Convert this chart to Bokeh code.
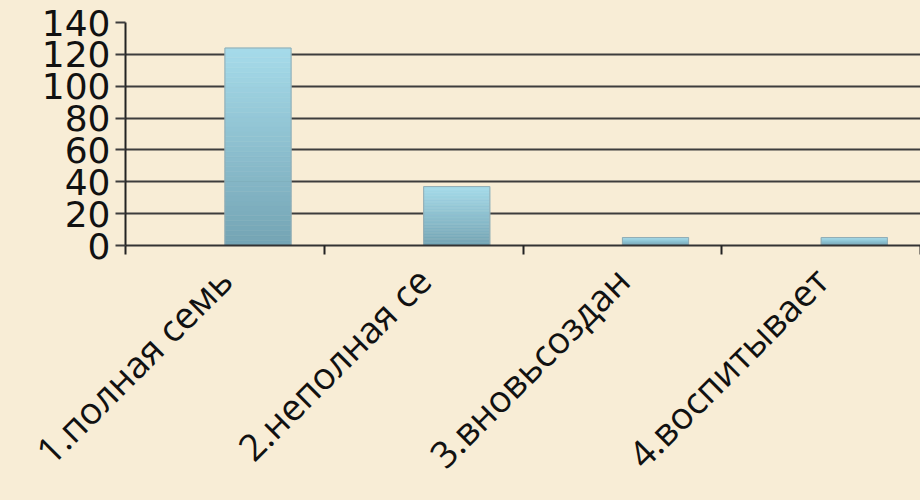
import math
from bokeh.plotting import figure
from bokeh.models import FixedTicker, Range1d, ColumnDataSource, GlobalInlineStyleSheet
from bokeh.transform import dodge
from bokeh.embed import file_html
from bokeh.resources import INLINE

categories = ["1.полная семь", "2.неполная се", "3.вновьсоздан", "4.воспитывает"]
values = [124, 37, 5, 5]
y_ticks = [0, 20, 40, 60, 80, 100, 120, 140]

BG = "#F8EDD6"
TOP = (166, 219, 234)
BOTTOM = (116, 164, 180)

n = len(categories)
x_centers = [i + 0.5 for i in range(n)]
x_bounds = list(range(n + 1))

p = figure(width=920, height=500, output_backend="svg", toolbar_location=None,
           x_range=Range1d(0, n), y_range=Range1d(0, 140),
           min_border_left=125, min_border_top=22, min_border_right=0,
           min_border_bottom=255)
p.background_fill_color = BG
p.border_fill_color = BG
p.outline_line_color = None
p.stylesheets = [GlobalInlineStyleSheet(css="body{background:%s;}" % BG)]

# gradient bar segments derived from values
N = 40
seg_x, seg_b, seg_t, seg_c = [], [], [], []
for xc, v in zip(x_centers, values):
    for k in range(N):
        f = (k + 0.5) / N
        c = tuple(int(round(BOTTOM[i] + (TOP[i] - BOTTOM[i]) * f)) for i in range(3))
        seg_x.append(xc)
        seg_b.append(v * k / N)
        seg_t.append(v * (k + 1) / N)
        seg_c.append("#%02x%02x%02x" % c)
seg_src = ColumnDataSource(dict(x=seg_x, b=seg_b, t=seg_t, c=seg_c))
p.vbar(x=dodge("x", 0.1667), width=0.333, bottom="b", top="t", source=seg_src,
       fill_color="c", line_color="c", line_width=0.6)

bar_src = ColumnDataSource(dict(x=x_centers, v=values))
p.vbar(x=dodge("x", 0.1667), width=0.333, bottom=0, top="v", source=bar_src,
       fill_alpha=0, line_color="#93ADB4", line_width=1)

# grid
p.xgrid.visible = False
p.ygrid.ticker = FixedTicker(ticks=y_ticks)
p.ygrid.grid_line_color = "#3d3d3d"
p.ygrid.grid_line_width = 2

# y axis
ya = p.yaxis[0]
ya.ticker = FixedTicker(ticks=y_ticks, minor_ticks=[])
ya.major_tick_out = 10
ya.major_tick_in = 0
ya.minor_tick_out = 0
ya.minor_tick_in = 0
ya.major_tick_line_color = "#3d3d3d"
ya.major_tick_line_width = 2
ya.axis_line_color = "#222222"
ya.axis_line_width = 2
ya.major_label_standoff = 5
ya.major_label_text_font = "DejaVu Sans"
ya.major_label_text_font_size = "36px"
ya.major_label_text_color = "#111111"

# x axis: boundary ticks as minor ticks, labels at centres
xa = p.xaxis[0]
xa.ticker = FixedTicker(ticks=x_centers, minor_ticks=x_bounds)
xa.major_label_overrides = {xc: cat for xc, cat in zip(x_centers, categories)}
xa.major_tick_out = 0
xa.major_tick_in = 0
xa.minor_tick_out = 9
xa.minor_tick_in = 0
xa.minor_tick_line_color = "#222222"
xa.minor_tick_line_width = 2
xa.axis_line_color = "#333333"
xa.axis_line_width = 2
xa.major_label_orientation = math.pi / 4
xa.major_label_standoff = 19
xa.major_label_text_font = "Open Sans"
xa.major_label_text_font_size = "37px"
xa.major_label_text_color = "#111111"

open("out.html", "w").write(file_html(p, INLINE))
